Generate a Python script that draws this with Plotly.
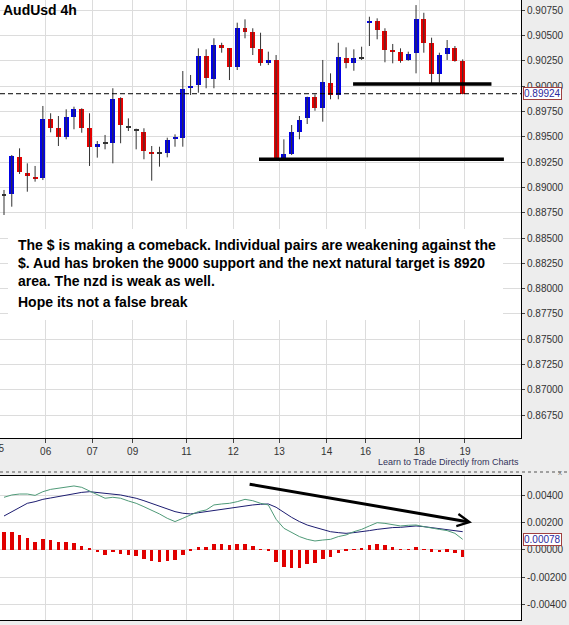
import plotly.graph_objects as go

W, H = 569, 625

# ---------------- data ----------------
candle_open = [0.88924, 0.88931, 0.89302, 0.89145, 0.89107, 0.89095, 0.89674, 0.89583, 0.89494, 0.89697,
               0.89773, 0.89583, 0.89401, 0.89435, 0.89435, 0.89879, 0.89591, 0.89559, 0.89549, 0.89352,
               0.89336, 0.89342, 0.89474, 0.89484, 0.89978, 0.90010, 0.90296, 0.90066, 0.90405, 0.90372,
               0.90191, 0.90575, 0.90536, 0.90362, 0.90224, 0.90257, 0.89287, 0.89329, 0.89549, 0.89681,
               0.89889, 0.89780, 0.90027, 0.89911, 0.90279, 0.90224, 0.90274, 0.90619, 0.90645, 0.90546,
               0.90355, 0.90333, 0.90257, 0.90323, 0.90661, 0.90421, 0.90115, 0.90313, 0.90372, 0.90247]
candle_high = [0.88974, 0.89319, 0.89385, 0.89237, 0.89211, 0.89803, 0.89731, 0.89704, 0.89770, 0.89796,
               0.89780, 0.89731, 0.89457, 0.89517, 0.89978, 0.89889, 0.89681, 0.89579, 0.89583, 0.89408,
               0.89401, 0.89490, 0.89523, 0.90148, 0.90109, 0.90372, 0.90362, 0.90471, 0.90427, 0.90375,
               0.90625, 0.90658, 0.90570, 0.90526, 0.90339, 0.90306, 0.89474, 0.89615, 0.89704, 0.89895,
               0.89918, 0.90257, 0.90125, 0.90427, 0.90382, 0.90362, 0.90388, 0.90684, 0.90668, 0.90570,
               0.90415, 0.90372, 0.90339, 0.90799, 0.90723, 0.90477, 0.90329, 0.90454, 0.90395, 0.90263]
candle_low = [0.88727, 0.88809, 0.89132, 0.88957, 0.89056, 0.89072, 0.89543, 0.89408, 0.89474, 0.89573,
              0.89539, 0.89211, 0.89293, 0.89375, 0.89237, 0.89435, 0.89556, 0.89375, 0.89277, 0.89066,
              0.89204, 0.89296, 0.89401, 0.89401, 0.89911, 0.89934, 0.89978, 0.89978, 0.90329, 0.90059,
              0.90158, 0.90471, 0.90306, 0.90200, 0.90207, 0.89277, 0.89277, 0.89319, 0.89474, 0.89625,
              0.89756, 0.89648, 0.89869, 0.89869, 0.90175, 0.90151, 0.90257, 0.90395, 0.90461, 0.90234,
              0.90224, 0.90230, 0.90250, 0.90125, 0.90329, 0.90027, 0.90033, 0.90257, 0.90240, 0.89918]
candle_close = [0.88924, 0.89309, 0.89154, 0.89115, 0.89087, 0.89672, 0.89589, 0.89500, 0.89691, 0.89770,
                0.89589, 0.89401, 0.89428, 0.89435, 0.89872, 0.89615, 0.89591, 0.89559, 0.89362, 0.89326,
                0.89336, 0.89467, 0.89494, 0.89968, 0.90000, 0.90296, 0.90076, 0.90405, 0.90372, 0.90191,
                0.90570, 0.90533, 0.90378, 0.90224, 0.90257, 0.89287, 0.89329, 0.89549, 0.89665, 0.89889,
                0.89780, 0.90043, 0.89911, 0.90283, 0.90224, 0.90279, 0.90274, 0.90645, 0.90553, 0.90355,
                0.90339, 0.90247, 0.90313, 0.90661, 0.90421, 0.90115, 0.90306, 0.90372, 0.90250, 0.89924]

macd_line = [0.00386, 0.00403, 0.00410, 0.00410, 0.00400, 0.00427, 0.00444, 0.00452, 0.00459, 0.00469,
             0.00459, 0.00432, 0.00403, 0.00379, 0.00386, 0.00379, 0.00359, 0.00342, 0.00317, 0.00293,
             0.00264, 0.00232, 0.00208, 0.00232, 0.00256, 0.00281, 0.00293, 0.00330, 0.00337, 0.00342,
             0.00354, 0.00371, 0.00361, 0.00342, 0.00330, 0.00225, 0.00159, 0.00127, 0.00098, 0.00078,
             0.00066, 0.00073, 0.00078, 0.00098, 0.00110, 0.00134, 0.00151, 0.00176, 0.00200, 0.00195,
             0.00183, 0.00176, 0.00181, 0.00183, 0.00171, 0.00159, 0.00151, 0.00142, 0.00122, 0.00078]
signal_line = [0.00249, 0.00281, 0.00313, 0.00342, 0.00354, 0.00371, 0.00381, 0.00391, 0.00400, 0.00415,
               0.00422, 0.00427, 0.00422, 0.00415, 0.00410, 0.00403, 0.00391, 0.00379, 0.00361, 0.00342,
               0.00322, 0.00303, 0.00281, 0.00269, 0.00264, 0.00273, 0.00281, 0.00293, 0.00300, 0.00305,
               0.00313, 0.00322, 0.00330, 0.00335, 0.00337, 0.00313, 0.00273, 0.00239, 0.00208, 0.00183,
               0.00166, 0.00151, 0.00134, 0.00127, 0.00122, 0.00127, 0.00132, 0.00142, 0.00151, 0.00159,
               0.00164, 0.00166, 0.00171, 0.00176, 0.00171, 0.00164, 0.00156, 0.00151, 0.00146, 0.00134]
macd_hist = [0.00134, 0.00130, 0.00110, 0.00086, 0.00061, 0.00078, 0.00073, 0.00061, 0.00061, 0.00054,
             0.00032, 0.00012, -0.00015, -0.00034, -0.00015, -0.00029, -0.00034, -0.00046, -0.00063, -0.00078,
             -0.00085, -0.00078, -0.00073, -0.00034, -0.00007, 0.00020, 0.00020, 0.00044, 0.00044, 0.00034,
             0.00044, 0.00044, 0.00027, 0.00005, -0.00005, -0.00085, -0.00125, -0.00134, -0.00129, -0.00103,
             -0.00093, -0.00066, -0.00054, -0.00020, -0.00002, 0.00002, 0.00015, 0.00037, 0.00044, 0.00037,
             0.00024, 0.00005, 0.00007, 0.00020, 0.00004, -0.00012, -0.00015, -0.00012, -0.00020, -0.00054]

day_tick_pos = [5.36, 11.36, 16.55, 23.47, 29.49, 35.41, 41.50, 46.50, 53.41, 59.29]
day_labels = ["06", "07", "09", "11", "12", "13", "14", "16", "18", "19"]

price_ticks = [0.8675 + 0.0025 * k for k in range(17)]
price_tick_text = ["%.5f" % v for v in price_ticks]
macd_ticks = [-0.004, -0.002, 0.0, 0.002, 0.004]
macd_tick_text = ["-0.00400", "-0.00200", "0.00000", "0.00200", "0.00400"]

last_price = 0.89924
last_macd = 0.00078
support_high = 0.90020
support_low = 0.89277

title_text = "AudUsd 4h"
comment_lines = ["The $ is making a comeback. Individual pairs are weakening against the",
                 "$. Aud has broken the 9000 support and the next natural target is 8920",
                 "area. The nzd is weak as well."]
comment_last = "Hope its not a false break"
footer_text = "Learn to Trade Directly from Charts"

# ---------------- geometry helpers ----------------
def px_x(p):
    return p / W

def px_y(p):
    return 1 - p / H

X0, X1 = -0.514, 66.5
n = len(candle_open)
idx = list(range(n))

FONT = "Liberation Sans, Arial, sans-serif"
BLUE = "#0000e6"
RED = "#e60000"
GRID = "#dcdcdc"

fig = go.Figure()

# wicks
wx, wy = [], []
for i in idx:
    wx += [i, i, None]
    wy += [candle_low[i], candle_high[i], None]
fig.add_trace(go.Scatter(x=wx, y=wy, mode="lines", line=dict(color="#333333", width=1),
                         hoverinfo="skip", showlegend=False, xaxis="x", yaxis="y"))

# bodies
base, height, colors = [], [], []
for i in idx:
    o, c = candle_open[i], candle_close[i]
    base.append(min(o, c))
    height.append(max(abs(c - o), 0.00009))
    if c > o:
        colors.append(BLUE)
    elif c < o:
        colors.append(RED)
    else:
        colors.append("#333333")
fig.add_trace(go.Bar(x=idx, y=height, base=base, width=0.64, marker=dict(color=colors, line=dict(width=0)),
                     showlegend=False, xaxis="x", yaxis="y"))

# MACD
fig.add_trace(go.Bar(x=idx, y=macd_hist, width=0.45, marker=dict(color="#e00000", line=dict(width=0)),
                     showlegend=False, xaxis="x2", yaxis="y2"))
fig.add_trace(go.Scatter(x=idx, y=signal_line, mode="lines", line=dict(color="#1c1c70", width=1),
                         showlegend=False, xaxis="x2", yaxis="y2"))
fig.add_trace(go.Scatter(x=idx, y=macd_line, mode="lines", line=dict(color="#4f9a78", width=1),
                         showlegend=False, xaxis="x2", yaxis="y2"))

tickfont = dict(family=FONT, size=10, color="#333333")
xdom = [0, px_x(521)]

fig.update_layout(
    width=W, height=H, margin=dict(l=0, r=0, t=0, b=0),
    paper_bgcolor="#ededed", plot_bgcolor="white",
    bargap=0, barmode="overlay", showlegend=False,
    xaxis=dict(domain=xdom, range=[X0, X1], anchor="y", tickvals=day_tick_pos, ticktext=day_labels,
               ticks="outside", ticklen=4, tickcolor="#444", tickfont=tickfont,
               showline=True, linecolor="black", linewidth=1, showgrid=True, gridcolor=GRID,
               zeroline=False, fixedrange=True),
    yaxis=dict(domain=[px_y(438), 1], range=[0.86526, 0.90849], anchor="x", side="right",
               tickvals=price_ticks, ticktext=price_tick_text, ticks="outside", ticklen=3,
               tickcolor="#444", tickfont=tickfont, showline=True, linecolor="black", linewidth=1,
               showgrid=True, gridcolor=GRID, zeroline=False),
    xaxis2=dict(domain=xdom, range=[X0, X1], anchor="y2", tickvals=day_tick_pos, showticklabels=False,
                ticks="", showline=True, mirror=True, linecolor="black", linewidth=1,
                showgrid=True, gridcolor=GRID, zeroline=False),
    yaxis2=dict(domain=[px_y(620), px_y(476)], range=[-0.00513, 0.00542], anchor="x2", side="right",
                tickvals=macd_ticks, ticktext=macd_tick_text, ticks="outside", ticklen=3,
                tickcolor="#444", tickfont=tickfont, showline=True, linecolor="black", linewidth=1,
                showgrid=True, gridcolor=GRID, zeroline=False),
)

shapes = [
    # white background behind the comment
    dict(type="rect", xref="paper", yref="paper", x0=px_x(8), x1=px_x(503), y0=px_y(320), y1=px_y(229),
         fillcolor="white", line=dict(width=0), layer="above"),
    # last price dashed line
    dict(type="line", xref="x", yref="y", x0=X0, x1=X1, y0=last_price, y1=last_price,
         line=dict(color="black", width=1, dash="5px,3px")),
    # support lines
    dict(type="line", xref="x", yref="y", x0=32.8, x1=64.3, y0=support_low, y1=support_low,
         line=dict(color="black", width=3.5)),
    dict(type="line", xref="x", yref="y", x0=44.9, x1=62.7, y0=support_high, y1=support_high,
         line=dict(color="black", width=3.5)),
    # splitter
    dict(type="line", xref="paper", yref="paper", x0=0, x1=1, y0=px_y(472), y1=px_y(472),
         line=dict(color="#a0a0a0", width=2, dash="dot")),
]
fig.update_layout(shapes=shapes)

ann = [
    dict(xref="paper", yref="paper", x=px_x(1), y=px_y(10), xanchor="left", yanchor="middle",
         text="<b>%s</b>" % title_text, showarrow=False, font=dict(family=FONT, size=14, color="black")),
    dict(xref="paper", yref="paper", x=px_x(16), y=px_y(263), xanchor="left", yanchor="middle", align="left",
         text="<b>" + "<br>".join(comment_lines) + "</b>", showarrow=False,
         font=dict(family=FONT, size=14, color="black")),
    dict(xref="paper", yref="paper", x=px_x(16), y=px_y(302), xanchor="left", yanchor="middle", align="left",
         text="<b>%s</b>" % comment_last, showarrow=False, font=dict(family=FONT, size=14, color="black")),
    dict(xref="paper", yref="y", x=px_x(523), y=last_price, xanchor="left", yanchor="middle",
         text="0.89924", showarrow=False, font=dict(family=FONT, size=10, color="#2a2aa0"),
         bgcolor="white", bordercolor="#a04040", borderwidth=1, borderpad=0),
    dict(xref="paper", yref="y2", x=px_x(523), y=last_macd, xanchor="left", yanchor="middle",
         text="0.00078", showarrow=False, font=dict(family=FONT, size=10, color="#2a2aa0"),
         bgcolor="white", bordercolor="#a04040", borderwidth=1, borderpad=0),
    dict(xref="paper", yref="paper", x=px_x(521), y=px_y(462), xanchor="right", yanchor="middle",
         text=footer_text, showarrow=False, font=dict(family=FONT, size=9, color="#33335a")),
    dict(xref="paper", yref="paper", x=px_x(-1), y=px_y(448), xanchor="center", yanchor="middle",
         text="05", showarrow=False, font=tickfont),
    dict(xref="paper", yref="paper", x=px_x(560), y=px_y(472), xanchor="center", yanchor="middle",
         text="x", showarrow=False, font=dict(family=FONT, size=8, color="#777")),
    dict(xref="x2", yref="y2", x=60.2, y=0.00201, axref="x2", ayref="y2", ax=31.4, ay=0.00484,
         text="", showarrow=True, arrowhead=5, arrowsize=0.8, arrowwidth=3, arrowcolor="black"),
]
fig.update_layout(annotations=ann)

fig.write_html("out.html")
